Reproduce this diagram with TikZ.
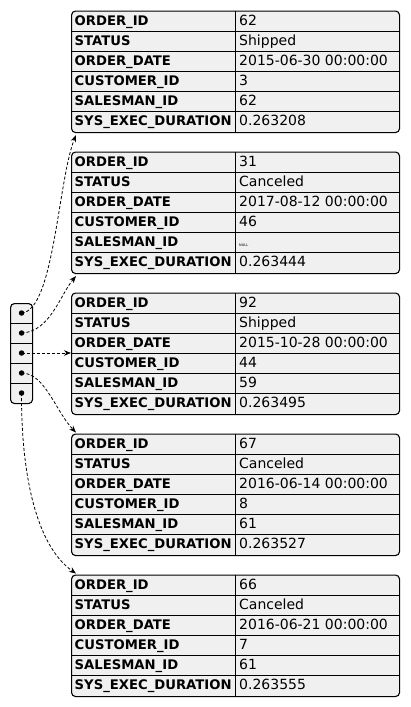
\documentclass[tikz,border=0pt]{standalone}
\usepackage{fontspec}
\setmainfont{DejaVu Sans}
\usepackage{tikz}
\usetikzlibrary{arrows.meta, positioning}
\definecolor{boxgray}{RGB}{240,240,240}

\newcommand{\nullmark}{{\fontsize{3.5}{4}\selectfont NULL}}
% one record: name, top, id, status, date, customer, salesman, duration
\newcommand{\recordtable}[8]{%
	\node[tablebox] (#1) at (71,#2) {};
	\foreach \r in {1,...,5}{
		\draw[rowline] ([yshift=-\r*20pt-1pt]#1.north west) -- ([yshift=-\r*20pt-1pt]#1.north east);
	}
	\draw[rowline] ([xshift=164pt]#1.north west) -- ([xshift=164pt]#1.south west);
	\foreach \k [count=\r from 0] in {ORDER\_ID,STATUS,ORDER\_DATE,CUSTOMER\_ID,SALESMAN\_ID,SYS\_EXEC\_DURATION}{
		\node[keytext] (#1-k\r) at ([xshift=2.5pt,yshift=-\r*20pt-11pt]#1.north west) {\k};
	}
	\foreach \v [count=\r from 0] in {#3,#4,#5,#6,#7,#8}{
		\node[valtext] (#1-v\r) at ([xshift=167pt,yshift=-\r*20pt-11pt]#1.north west) {\v};
	}
}

\begin{document}
\begin{tikzpicture}[x=1pt, y=-1pt,
	tablebox/.style={draw, line width=1.1pt, rounded corners=4pt, fill=boxgray,
		minimum width=328pt, minimum height=121.5pt, anchor=north west, inner sep=0pt},
	cellbox/.style={draw, line width=1.1pt, rounded corners=4pt, fill=boxgray,
		minimum width=22pt, minimum height=100pt, anchor=north west, inner sep=0pt},
	rowline/.style={line width=0.9pt},
	keytext/.style={anchor=west, inner sep=1pt, text height=9.5pt, text depth=2.5pt,
		font=\fontsize{13.2}{15}\selectfont\bfseries},
	valtext/.style={anchor=west, inner sep=1pt, text height=9.5pt, text depth=2.5pt,
		font=\fontsize{14}{16}\selectfont},
	dot/.style={circle, fill=black, inner sep=0pt, minimum size=5.5pt},
	link/.style={dashed, dash pattern=on 3pt off 2pt, line width=0.8pt,
		-{Stealth[length=7pt, width=5.5pt]}}]
	\useasboundingbox (0,0) rectangle (410,707);
	% records
	\recordtable{t1}{10.5}{62}{Shipped}{2015-06-30 00:00:00}{3}{62}{0.263208}
	\recordtable{t2}{151.5}{31}{Canceled}{2017-08-12 00:00:00}{46}{\nullmark}{0.263444}
	\recordtable{t3}{292.5}{92}{Shipped}{2015-10-28 00:00:00}{44}{59}{0.263495}
	\recordtable{t4}{433.5}{67}{Canceled}{2016-06-14 00:00:00}{8}{61}{0.263527}
	\recordtable{t5}{574.5}{66}{Canceled}{2016-06-21 00:00:00}{7}{61}{0.263555}
	% array of pointers
	\node[cellbox] (arr) at (10,303) {};
	\foreach \i in {1,...,4}{
		\draw[rowline] ([yshift=-\i*20pt]arr.north west) -- ([yshift=-\i*20pt]arr.north east);
	}
	\foreach \i in {1,...,5}{
		\node[dot] (c\i) at ([yshift=-\i*20pt+10pt]arr.north) {};
	}
	% pointers
	\draw[link] (c1.center) .. controls (54,311) and (58,180) .. ([xshift=5pt,yshift=-2pt]t1.south west);
	\draw[link] (c2.center) .. controls (50,332) and (60,295) .. ([xshift=5pt,yshift=-2pt]t2.south west);
	\draw[link] (c3.center) -- (t3.west |- c3);
	\draw[link] (c4.center) .. controls (45,373) and (56,412) .. ([xshift=5pt,yshift=1pt]t4.north west);
	\draw[link] (c5.center) .. controls (21,470) and (35,545) .. ([xshift=5pt,yshift=1pt]t5.north west);
\end{tikzpicture}
\end{document}
